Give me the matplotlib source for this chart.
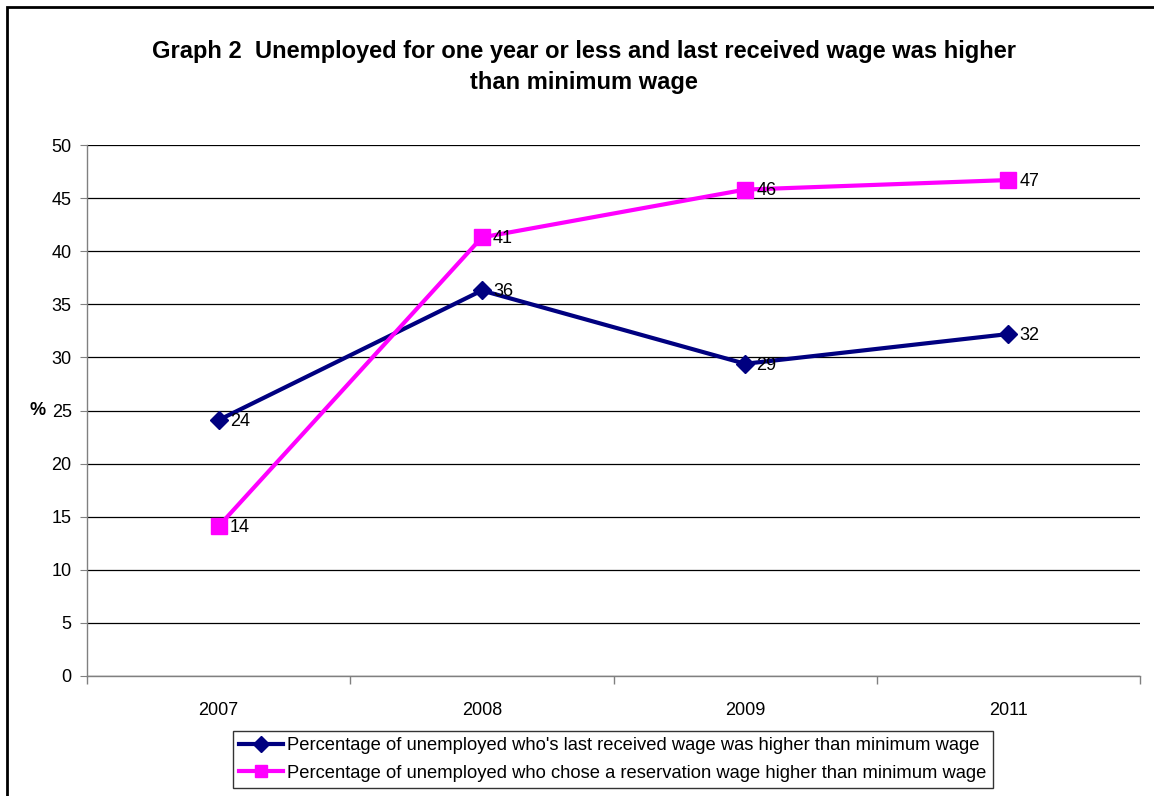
import matplotlib.pyplot as plt
import numpy as np
from matplotlib.patches import Rectangle

# Chart data
years = ["2007", "2008", "2009", "2011"]
last_wage_higher = [24.1, 36.3, 29.4, 32.2]
reservation_higher = [14.1, 41.3, 45.8, 46.7]
last_wage_labels = ["24", "36", "29", "32"]
reservation_labels = ["14", "41", "46", "47"]
series_names = [
    "Percentage of unemployed who's last received wage was higher than minimum wage",
    "Percentage of unemployed who chose a reservation wage higher than minimum wage",
]
y_ticks = [0, 5, 10, 15, 20, 25, 30, 35, 40, 45, 50]

plt.rcParams['font.family'] = ['Liberation Sans', 'DejaVu Sans']

W, H = 1154, 796
fig = plt.figure(figsize=(W / 100, H / 100), dpi=100)
ax = fig.add_axes([87 / W, 1 - 676 / H, (1140 - 87) / W, (676 - 145) / H])

x = np.arange(len(years))
navy = "#000080"
magenta = "#FF00FF"

ax.plot(x, last_wage_higher, color=navy, lw=3, marker="D", ms=9,
        label=series_names[0], zorder=3)
ax.plot(x, reservation_higher, color=magenta, lw=3, marker="s", ms=11,
        label=series_names[1], zorder=3)

for xi, v, s in zip(x, last_wage_higher, last_wage_labels):
    ax.annotate(s, (xi, v), xytext=(8, -1), textcoords="offset points",
                ha="left", va="center", fontsize=13, zorder=4)
for xi, v, s in zip(x, reservation_higher, reservation_labels):
    ax.annotate(s, (xi, v), xytext=(8, -1), textcoords="offset points",
                ha="left", va="center", fontsize=13, zorder=4)

ax.set_xlim(-0.5, len(years) - 0.5)
ax.set_ylim(0, 50)
ax.set_yticks(y_ticks)
ax.yaxis.grid(True, color="black", lw=0.9)
ax.set_axisbelow(True)

ax.set_xticks(x)
ax.set_xticklabels(years, fontsize=13)
ax.set_xticks(np.arange(-0.5, len(years)), minor=True)
ax.tick_params(axis="x", which="major", length=0, pad=19)
ax.tick_params(axis="x", which="minor", length=6, color="#808080", width=1)
ax.tick_params(axis="y", length=5, color="#808080", labelsize=13, pad=6)

for side in ["top", "right"]:
    ax.spines[side].set_visible(False)
for side in ["left", "bottom"]:
    ax.spines[side].set_color("#808080")
    ax.spines[side].set_linewidth(1)

ax.set_ylabel("%", rotation=0, fontsize=13, fontweight="bold", va="center")
ax.yaxis.set_label_coords(-0.047, 0.5)

fig.text(584 / W, 1 - 67 / H,
         "Graph 2  Unemployed for one year or less and last received wage was higher\nthan minimum wage",
         ha="center", va="center", fontsize=17, fontweight="bold", linespacing=1.4)

leg = fig.legend(loc="upper center", bbox_to_anchor=(613 / W, 1 - 731 / H),
                 fontsize=13.2, frameon=True, fancybox=False, edgecolor="black",
                 borderpad=0.35, labelspacing=0.55, handlelength=2.4,
                 handletextpad=0.2, borderaxespad=0, markerscale=0.85)
leg.get_frame().set_linewidth(1)

# outer chart frame (only left and top edges visible in the picture)
fig.patches.append(Rectangle((7 / W, -0.1), 1.2, 1 - 7 / H + 0.1,
                             transform=fig.transFigure, fill=False,
                             edgecolor="black", lw=2))

fig.savefig("out.png", dpi=100)
